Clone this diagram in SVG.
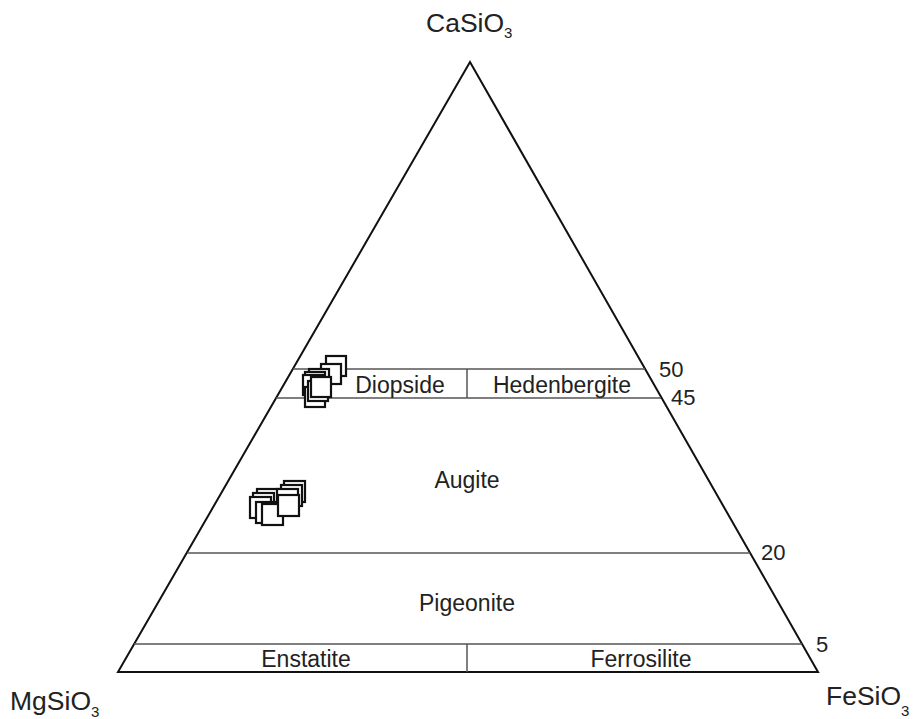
<svg xmlns="http://www.w3.org/2000/svg" width="918" height="719" viewBox="0 0 918 719">
<style>
.frame{fill:none;stroke:#111;stroke-width:2;stroke-linejoin:miter}
.div{stroke:#555;stroke-width:1.5;fill:none}
.lbl{font-family:"Liberation Sans",Arial,sans-serif;font-size:23px;fill:#222;text-anchor:middle}
.num{font-family:"Liberation Sans",Arial,sans-serif;font-size:22px;fill:#222}
.end{font-family:"Liberation Sans",Arial,sans-serif;font-size:26.5px;fill:#222}
.sub{font-size:15px}
.pt{fill:#fff;stroke:#111;stroke-width:2.2}
</style>
<rect width="918" height="719" fill="#fff"/>
<g id="fields">
<polygon class="frame" points="470,62 118,672 818,672"/>
<line class="div" x1="293" y1="369" x2="645" y2="369"/>
<line class="div" x1="276" y1="398" x2="661" y2="398"/>
<line class="div" x1="467" y1="369" x2="467" y2="398"/>
<line class="div" x1="187" y1="553" x2="750" y2="553"/>
<line class="div" x1="134" y1="644" x2="802" y2="644"/>
<line class="div" x1="467" y1="644" x2="467" y2="672"/>
</g>
<g id="labels">
<text class="lbl" x="400" y="393">Diopside</text>
<text class="lbl" x="562" y="393">Hedenbergite</text>
<text class="lbl" x="467" y="488">Augite</text>
<text class="lbl" x="467" y="611">Pigeonite</text>
<text class="lbl" x="306" y="667">Enstatite</text>
<text class="lbl" x="641" y="667">Ferrosilite</text>
<text class="num" x="659" y="377">50</text>
<text class="num" x="671" y="405">45</text>
<text class="num" x="761" y="560">20</text>
<text class="num" x="816" y="652">5</text>
</g>
<g id="end-members">
<text class="end" x="426" y="32">CaSiO<tspan class="sub" dy="6">3</tspan></text>
<text class="end" x="10" y="710">MgSiO<tspan class="sub" dy="7">3</tspan></text>
<text class="end" x="826" y="705">FeSiO<tspan class="sub" dy="11">3</tspan></text>
</g>
<g id="cluster-diopside">
<rect class="pt" x="326" y="356" width="20" height="20"/>
<rect class="pt" x="321" y="364" width="20" height="20"/>
<rect class="pt" x="309" y="369" width="20" height="20"/>
<rect class="pt" x="305" y="372" width="20" height="20"/>
<rect class="pt" x="303" y="375" width="20" height="20"/>
<rect class="pt" x="305" y="387" width="20" height="20"/>
<rect class="pt" x="308" y="381" width="20" height="20"/>
<rect class="pt" x="311" y="377" width="20" height="20"/>
</g>
<g id="cluster-augite">
<rect class="pt" x="284" y="481" width="21" height="21"/>
<rect class="pt" x="281" y="485" width="21" height="21"/>
<rect class="pt" x="257" y="489" width="21" height="21"/>
<rect class="pt" x="253" y="493" width="21" height="21"/>
<rect class="pt" x="250" y="497" width="21" height="21"/>
<rect class="pt" x="277" y="489" width="21" height="21"/>
<rect class="pt" x="256" y="502" width="21" height="21"/>
<rect class="pt" x="262" y="504" width="21" height="21"/>
<rect class="pt" x="278" y="495" width="21" height="21"/>
</g>
</svg>
